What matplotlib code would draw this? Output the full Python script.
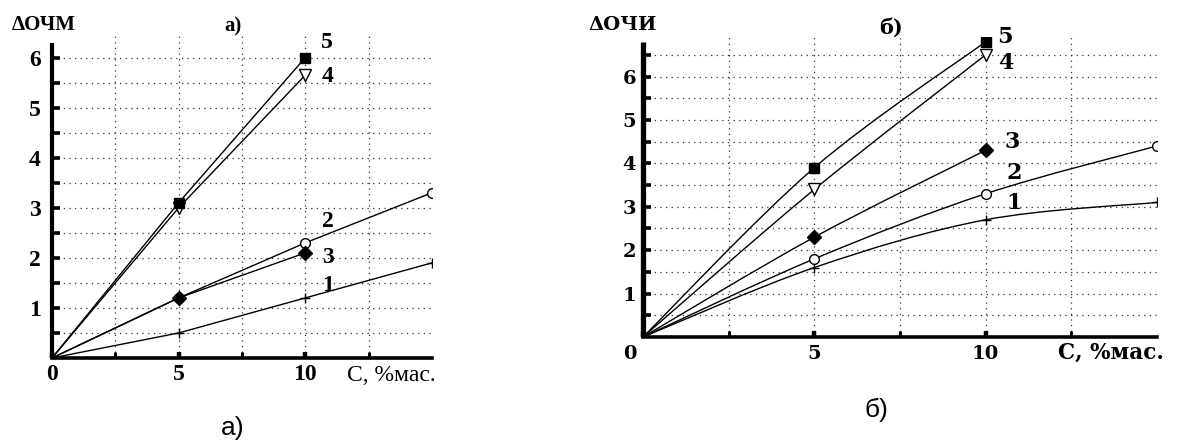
import matplotlib
matplotlib.use("Agg")
import matplotlib.pyplot as plt
from matplotlib.path import Path
from matplotlib.patches import PathPatch
from matplotlib.transforms import ScaledTranslation
import numpy as np

# ---- data -------------------------------------------------------------
conc = [0, 5, 10, 15]          # C, % mass
series_ids = ["1", "2", "3", "4", "5"]

# panel a) : ΔОЧМ
a_vals = {
    "1": [0, 0.5, 1.2, 1.9],
    "2": [0, 1.2, 2.3, 3.3],
    "3": [0, 1.2, 2.1],
    "4": [0, 3.0, 5.65],
    "5": [0, 3.1, 6.0],
}
# panel б) : ΔОЧИ
b_vals = {
    "1": [0, 1.6, 2.7, 3.1],
    "2": [0, 1.8, 3.3, 4.4],
    "3": [0, 2.3, 4.3],
    "4": [0, 3.4, 6.5],
    "5": [0, 3.9, 6.8],
}

x_ticklabels = ["0", "5", "10"]
y_ticklabels = ["1", "2", "3", "4", "5", "6"]

# marker style per series
markers = {
    "1": dict(marker="+", ms=7, mfc="black", mew=1.0),
    "2": dict(marker="o", ms=7, mfc="white", mew=1.0),
    "3": dict(marker="D", ms=7, mfc="black", mew=1.0),
    "4": dict(marker="v", ms=9, mfc="white", mew=1.0),
    "5": dict(marker="s", ms=7, mfc="black", mew=1.0),
}

# positions of the curve numbers (data coords, left edge of the digit)
a_label_pos = {"1": (10.65, 1.45), "2": (10.65, 2.72), "3": (10.65, 2.0),
               "4": (10.65, 5.62), "5": (10.6, 6.3)}
b_label_pos = {"1": (10.6, 3.09), "2": (10.6, 3.78), "3": (10.55, 4.49),
               "4": (10.35, 6.31), "5": (10.32, 6.91)}

SERIF_A = "Liberation Serif"
SERIF_B = "DejaVu Serif"


def smooth_path(xs, ys):
    """Catmull-Rom curve through the given points as cubic Bezier segments."""
    pts = np.column_stack([xs, ys]).astype(float)
    n = len(pts)
    verts = [pts[0]]
    codes = [Path.MOVETO]
    for i in range(n - 1):
        p_prev = pts[i - 1] if i > 0 else pts[i]
        p0, p1 = pts[i], pts[i + 1]
        p_next = pts[i + 2] if i + 2 < n else pts[i + 1]
        c1 = p0 + (p1 - p_prev) / 6.0
        c2 = p1 - (p_next - p0) / 6.0
        verts += [c1, c2, p1]
        codes += [Path.CURVE4] * 3
    return Path(verts, codes)


def style_axes(ax, ytop, spine_top, family, tick_fs, weight, spine_w, zero_shift):
    ax.set_xlim(0, 15)
    ax.set_ylim(0, ytop)
    for s in ("top", "right"):
        ax.spines[s].set_visible(False)
    ax.spines["left"].set_linewidth(spine_w)
    ax.spines["bottom"].set_linewidth(2.6)
    ax.spines["left"].set_bounds(0, spine_top)
    ax.spines["left"].set_capstyle("butt")

    # grid: dotted, horizontal every 0.5, vertical every 2.5
    for yv in np.arange(0.5, ytop, 0.5):
        ax.axhline(yv, color="#333333", lw=0.9, ls=(0, (1, 3.5)), zorder=0)
    for xv in np.arange(2.5, 15, 2.5):
        ax.axvline(xv, color="#333333", lw=0.9, ls=(0, (1, 3.5)), zorder=0)

    ax.set_xticks([0, 5, 10])
    ax.set_xticklabels(x_ticklabels, fontsize=tick_fs, family=family, fontweight=weight)
    ax.set_xticks(np.arange(2.5, 15, 2.5), minor=True)
    ax.set_yticks([1, 2, 3, 4, 5, 6])
    ax.set_yticklabels(y_ticklabels, fontsize=tick_fs, family=family, fontweight=weight)
    ax.set_yticks(np.arange(0.5, spine_top, 0.5), minor=True)
    ax.tick_params(axis="y", which="both", direction="in", length=6, width=2.6, pad=8)
    ax.tick_params(axis="x", which="major", direction="in", length=4, width=3.2, pad=6)
    ax.tick_params(axis="x", which="minor", direction="in", length=4, width=2.2)

    # the origin label sits left of the corner
    lbl0 = ax.get_xticklabels()[0]
    lbl0.set_transform(lbl0.get_transform() +
                       ScaledTranslation(-zero_shift / 100.0, 0, ax.figure.dpi_scale_trans))


fig = plt.figure(figsize=(11.78, 4.44), dpi=100)
W, H = 1178.0, 444.0

# ---- panel a) ---------------------------------------------------------
ax_a = fig.add_axes([52 / W, 1 - 358 / H, 380 / W, (358 - 35) / H])
style_axes(ax_a, ytop=6.45, spine_top=6.3, family=SERIF_A, tick_fs=17,
           weight="bold", spine_w=3.0, zero_shift=9)
ax_a.tick_params(axis="x", which="major", pad=4)
for sid in series_ids:
    ys = a_vals[sid]
    xs = conc[:len(ys)]
    ax_a.plot(xs, ys, color="black", lw=1.0, zorder=3, mec="black",
              markevery=list(range(1, len(ys))), **markers[sid])
    lx, ly = a_label_pos[sid]
    ax_a.text(lx, ly, sid, fontsize=17, family=SERIF_A, fontweight="bold",
              ha="left", va="center", zorder=4)
ax_a.text(15.15, -0.34, "С, %мас.", fontsize=17, family=SERIF_A,
          ha="right", va="center", clip_on=False)

fig.text(12 / W, 1 - 25 / H, "ΔОЧМ", fontsize=15, family=SERIF_A, fontweight="bold",
         ha="left", va="center")
fig.text(233 / W, 1 - 26 / H, "а)", fontsize=15, family=SERIF_A, fontweight="bold",
         ha="center", va="center")
fig.text(233 / W, 1 - 428 / H, "а)", fontsize=19, family="Liberation Sans",
         ha="center", va="center")

# ---- panel б) ---------------------------------------------------------
ax_b = fig.add_axes([643 / W, 1 - 337 / H, 514 / W, (337 - 37) / H])
style_axes(ax_b, ytop=6.91, spine_top=6.8, family=SERIF_B, tick_fs=14,
           weight="bold", spine_w=3.8, zero_shift=13)
ax_b.tick_params(axis="y", which="both", pad=5)
for sid in series_ids:
    ys = b_vals[sid]
    xs = conc[:len(ys)]
    ax_b.add_patch(PathPatch(smooth_path(xs, ys), fill=False, ec="black",
                             lw=1.0, zorder=3))
    ax_b.plot(xs[1:], ys[1:], ls="none", color="black", mec="black", zorder=4,
              **markers[sid])
    lx, ly = b_label_pos[sid]
    ax_b.text(lx, ly, sid, fontsize=16, family=SERIF_B, fontweight="bold",
              ha="left", va="center", zorder=4)
ax_b.text(15.2, -0.37, "С, %мас.", fontsize=15.5, family=SERIF_B, fontweight="bold",
          ha="right", va="center", clip_on=False)

fig.text(588 / W, 1 - 25 / H, "ΔОЧИ", fontsize=14, family=SERIF_B, fontweight="bold",
         ha="left", va="center")
fig.text(891 / W, 1 - 28 / H, "б)", fontsize=15, family=SERIF_B, fontweight="bold",
         ha="center", va="center")
fig.text(876 / W, 1 - 410 / H, "б)", fontsize=19, family="Liberation Sans",
         ha="center", va="center")

fig.savefig("out.png", dpi=100)
